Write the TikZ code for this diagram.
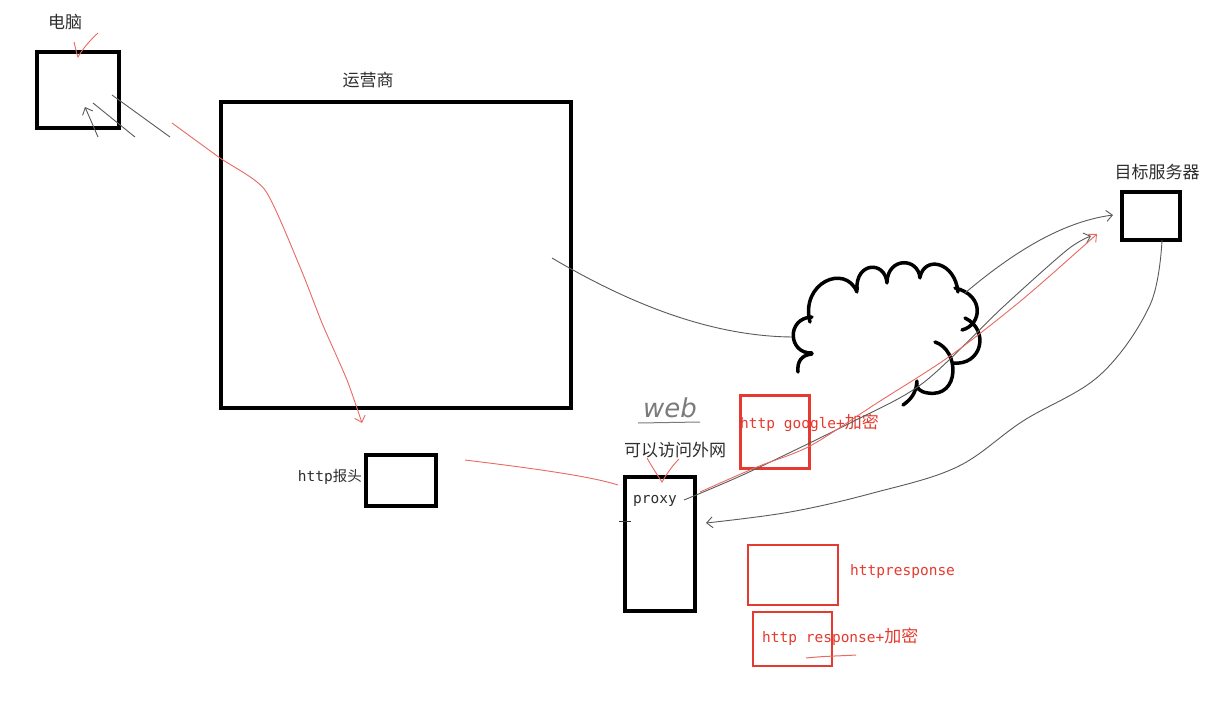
\documentclass[tikz,border=0pt]{standalone}
\usepackage{fontspec}
\newfontfamily\cjk{Noto Sans CJK SC}
\newfontfamily\monof{DejaVu Sans Mono}
\newfontfamily\handf{DejaVu Sans}
\usetikzlibrary{arrows.meta}
\definecolor{boxred}{HTML}{E53A2F}
\definecolor{penred}{HTML}{EA6A62}
\definecolor{pengray}{HTML}{5A5A5A}
\definecolor{labelgray}{HTML}{2E2E2E}
\begin{document}
\begin{tikzpicture}[x=1pt,y=-1pt,
  blackbox/.style={draw=black, line width=4pt, inner sep=0pt, outer sep=0pt},
  redbox/.style={draw=boxred, line width=2pt, inner sep=0pt, outer sep=0pt},
  cjklabel/.style={font=\cjk\fontsize{17}{20}\selectfont, text=labelgray, inner sep=0pt},
  monolabel/.style={font=\monof\fontsize{14.5}{17}\selectfont, inner sep=0pt},
  redlabel/.style={monolabel, text=boxred},
  grayline/.style={draw=pengray, line width=0.9pt},
  redline/.style={draw=penred, line width=0.9pt},
  tip/.style={-{Straight Barb[length=6pt,width=11pt]}},
  cloudline/.style={draw=black, line width=3.5pt, line cap=round}]
\useasboundingbox[fill=white] (0,0) rectangle (1229,704);

% boxes
\node[blackbox, minimum width=82, minimum height=76] (pc) at (78,90) {};
\node[blackbox, minimum width=350, minimum height=306] (isp) at (396,255) {};
\node[blackbox, minimum width=70, minimum height=51] (hdr) at (401,480.5) {};
\node[blackbox, minimum width=70, minimum height=134] (proxy) at (660,544) {};
\node[blackbox, minimum width=58, minimum height=48] (target) at (1151,216) {};
\node[redbox, line width=3pt, minimum width=69, minimum height=73] (rb1) at (775,432) {};
\node[redbox, minimum width=90, minimum height=60] (rb2) at (793,575) {};
\node[redbox, minimum width=79, minimum height=54] (rb3) at (792.5,639) {};

% labels
\node[cjklabel] (pclabel) at (65,22) {电脑};
\node[cjklabel] (isplabel) at (368,80) {运营商};
\node[cjklabel] (tgtlabel) at (1157,172) {目标服务器};
\node[cjklabel] (netlabel) at (675,450) {可以访问外网};
\node[monolabel, text=labelgray, anchor=east] (hdrlabel) at (362,477) {http{\cjk 报头}};
\node[monolabel, text=labelgray] (proxylabel) at (655,501) {proxy};
\node[redlabel, anchor=west] (glabel) at (740,423) {http google+{\cjk\fontsize{17}{20}\selectfont 加密}};
\node[redlabel, anchor=west] (rlabel) at (850,571) {httpresponse};
\node[redlabel, anchor=west] (relabel) at (762,637) {http response+{\cjk\fontsize{17}{20}\selectfont 加密}};
\node[font=\handf\fontsize{26}{28}\selectfont\itshape, text=pengray!80, inner sep=0pt] (web) at (670,408) {web};

% coordinates for hand-drawn ends
\coordinate (webL) at (638,423);
\coordinate (webR) at (700,422);
\coordinate (ispOut) at (552,258);
\coordinate (cloudL) at (795,337);
\coordinate (cloudTR) at (965,293);
\coordinate (tgtIn) at (1113,215);
\coordinate (proxyOut) at (684,500);
\coordinate (tgtIn2) at (1091,236);
\coordinate (redStart) at (700,492);
\coordinate (tgtIn3) at (1097,234);
\coordinate (hdrOut) at (465,460);
\coordinate (proxyIn) at (618,485);
\coordinate (proxyRet) at (706,523);

% underline of web
\draw[draw=pengray!80, line width=1pt] (webL) -- (webR);

% red check marks
\draw[redline] (74,42) .. controls (76,50) and (77,55) .. (78,57) .. controls (82,50) and (90,40) .. (98,33);
\draw[redline] (647,458) .. controls (652,467) and (658,476) .. (662,482) .. controls (666,475) and (672,466) .. (679,459);

% gray strokes near pc
\draw[grayline, tip] (98,137) -- (85,107);
\draw[grayline] (93,103) -- (135,137);
\draw[grayline] (112,95) -- (170,137);

% red path through isp
\draw[redline, tip] plot[smooth, tension=0.4] coordinates {(172,123) (220,158) (265,190) (300,267) (322,323) (347,380) (362,423)};

% gray from isp to cloud
\draw[grayline] (ispOut) .. controls (640,310) and (720,337) .. (cloudL);

% cloud
\draw[cloudline] (812,353) .. controls (788,354) and (786,318) .. (812,317);
\draw[cloudline] (810,322) .. controls (800,283) and (845,263) .. (857,292);
\draw[cloudline] (857,290) .. controls (855,262) and (885,260) .. (887,283);
\draw[cloudline] (887,282) .. controls (888,257) and (918,257) .. (920,278);
\draw[cloudline] (920,277) .. controls (925,255) and (955,262) .. (958,292);
\draw[cloudline] (955,288) .. controls (985,295) and (982,325) .. (962,330);
\draw[cloudline] (965,318) .. controls (990,330) and (982,366) .. (953,363);
\draw[cloudline] (935,342) .. controls (960,350) and (960,398) .. (928,393) .. controls (920,392) and (915,388) .. (917,381);
\draw[cloudline] (917,383) .. controls (915,395) and (910,400) .. (903,405);
\draw[cloudline] (798,372) .. controls (797,362) and (801,355) .. (812,354);

% cloud to target
\draw[grayline, tip] (cloudTR) .. controls (1010,255) and (1060,222) .. (tgtIn);

% proxy to target (gray + red)
\draw[grayline, tip] plot[smooth, tension=0.5] coordinates {(proxyOut) (747,473) (850,423) (923,383) (1003,307) (1067,250) (tgtIn2)};
\draw[redline, tip] plot[smooth, tension=0.5] coordinates {(redStart) (757,467) (810,446) (877,403) (950,356) (1023,299) (tgtIn3)};

% target back to proxy
\draw[grayline, tip] plot[smooth, tension=0.6] coordinates {(1162,240) (1150,305) (1100,375) (1023,421) (957,467) (873,493) (790,512) (proxyRet)};

% header to proxy
\draw[redline] (hdrOut) .. controls (530,468) and (590,476) .. (proxyIn);

% small tick
\draw[draw=black!80, line width=1pt] (619,521) -- (631,521);

% underline under response
\draw[redline, line width=1pt] (806,658) .. controls (825,656) and (840,656) .. (856,655);
\end{tikzpicture}
\end{document}
